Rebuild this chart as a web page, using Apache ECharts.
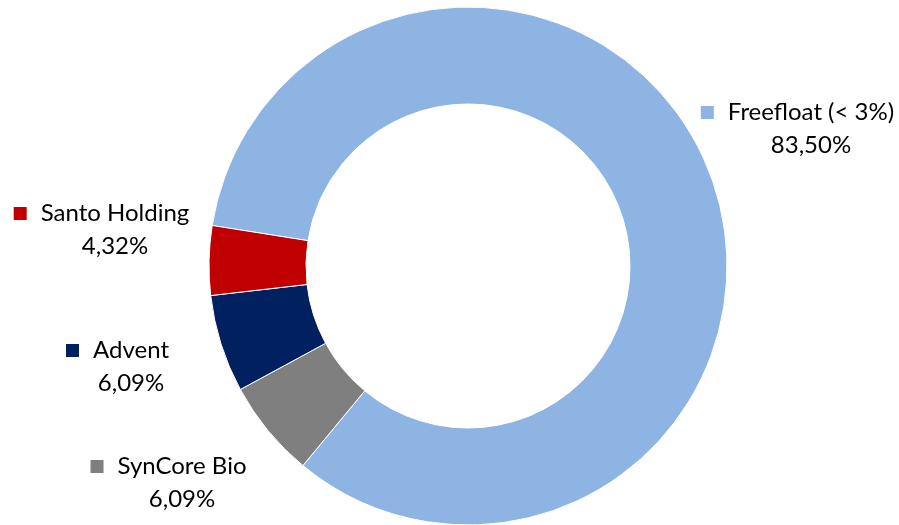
<!DOCTYPE html>
<html>
<head>
<meta charset="utf-8">
<script src="https://cdn.jsdelivr.net/npm/echarts@6/dist/echarts.min.js"></script>
<style>html,body{margin:0;padding:0;background:#fff}#c{width:899px;height:525px}</style>
</head>
<body>
<div id="c"></div>
<script>
// Data (clockwise order from the Freefloat slice)
const categories = ['Freefloat (< 3%)', 'SynCore Bio', 'Advent', 'Santo Holding'];
const values = [83.50, 6.09, 6.09, 4.32];
const valueLabels = ['83,50%', '6,09%', '6,09%', '4,32%'];
const colors = ['#8EB4E3', '#7F7F7F', '#002060', '#C00000'];

// label anchor positions (layout only)
const labelPos = [[811, 129], [182, 483], [131, 367], [115, 230]];

const chart = echarts.init(document.getElementById('c'), null, {renderer: 'canvas'});
const FONT = 'Lato';
chart.setOption({
  animation: false,
  series: [{
    type: 'pie',
    center: [468, 266],
    radius: [162, 259],
    startAngle: 171,
    clockwise: true,
    avoidLabelOverlap: false,
    itemStyle: {borderColor: '#ffffff', borderWidth: 1},
    labelLine: {show: false},
    data: categories.map((c, i) => ({
      name: c, value: values[i],
      itemStyle: {color: colors[i]},
      label: {
        rich: {
          sq: {width: 13, height: 13, backgroundColor: colors[i]}
        }
      }
    })),
    label: {
      show: true,
      position: 'outside',
      formatter: p => '{sq|}{name|' + p.name + '}{sp|}\n{val|' + valueLabels[p.dataIndex] + '}',
      color: '#000',
      fontFamily: FONT,
      fontSize: 24,
      lineHeight: 33,
      align: 'center',
      rich: {
        name: {fontFamily: FONT, fontSize: 24, color: '#000', padding: [0, 0, 0, 14], lineHeight: 33},
        sp: {width: 27, height: 13},
        val: {fontFamily: FONT, fontSize: 24, color: '#000', lineHeight: 33}
      }
    },
    labelLayout: function (params) {
      const pos = labelPos[params.dataIndex];
      return {x: pos[0], y: pos[1], align: 'center', verticalAlign: 'middle', hideOverlap: false};
    }
  }]
});
</script>
</body>
</html>
